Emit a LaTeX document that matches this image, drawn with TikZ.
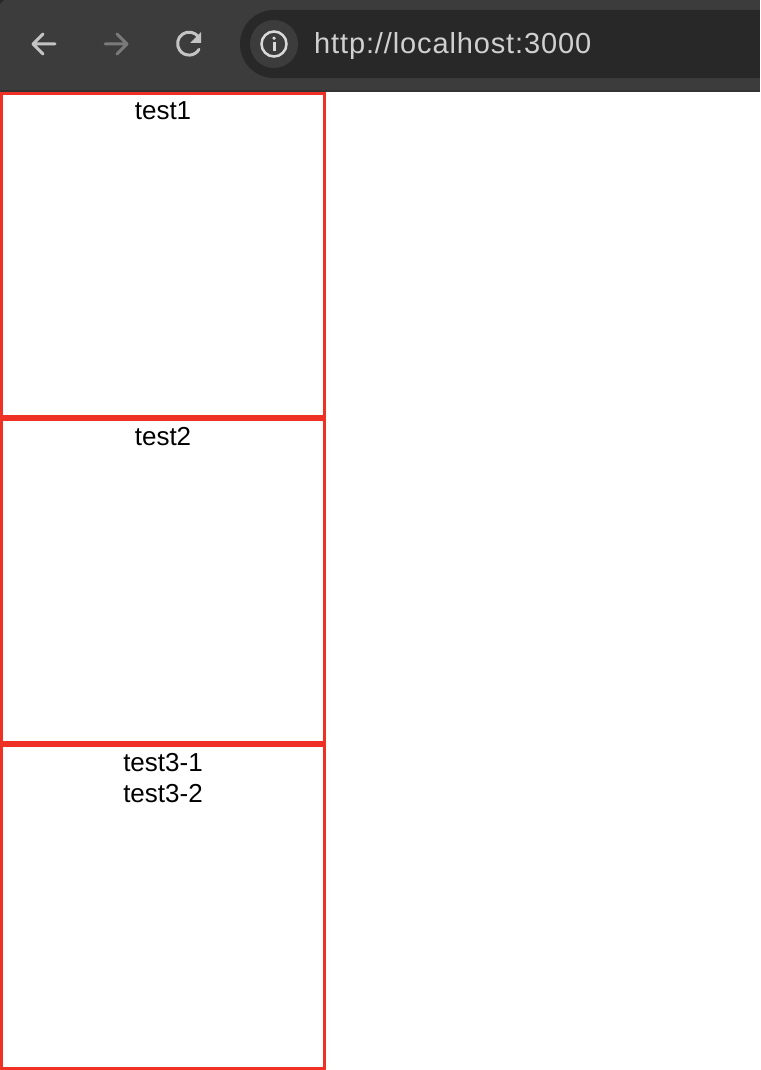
\documentclass[tikz,border=0pt]{standalone}
\usepackage{fontspec}
\setmainfont{Liberation Sans}
\usetikzlibrary{positioning}
\definecolor{barcol}{HTML}{3C3C3C}
\definecolor{urlcol}{HTML}{282828}
\definecolor{boxcol}{HTML}{EE3124}
\definecolor{iconcol}{HTML}{C4C4C4}
\definecolor{offcol}{HTML}{7A7A7A}
\definecolor{urltext}{HTML}{D0D0D0}
\begin{document}
\begin{tikzpicture}[x=1pt,y=-1pt,
 testbox/.style={draw=boxcol,line width=3pt,minimum size=323pt,inner sep=0pt,outer sep=0pt},
 testlabel/.style={font=\fontsize{26}{30}\selectfont,text=black,inner sep=0pt,align=center,text height=19pt,text depth=5pt},
 navicon/.style={line width=3pt,line cap=round,line join=round}]
 \useasboundingbox (0,0) rectangle (760,1070);
 \fill[white] (0,0) rectangle (760,1070);
 % browser bar
 \fill[barcol] (0,0) rectangle (760,92);
 \fill[urlcol] (0,0) -- (4,0) -- (0,4) -- cycle;
 \fill[barcol!85!black] (0,90) rectangle (760,92);
 \fill[urlcol] (274,44) circle (34);
 \fill[urlcol] (274,10) rectangle (760,78);
 \node[circle,fill=barcol,minimum size=48pt,inner sep=0pt] (infobg) at (274,44) {};
 \node[circle,draw=urltext!80!white,line width=2.5pt,minimum size=25pt,inner sep=0pt] (info) at (274,44) {};
 \fill[urltext!80!white] (272.5,42) rectangle (275.5,51);
 \fill[urltext!80!white] (274,38.2) circle (1.8);
 \node[anchor=west,text=urltext,inner sep=0pt,font=\addfontfeature{LetterSpace=3}\fontsize{29}{34}\selectfont,text height=21pt,text depth=6pt] (url) at (314,46.5) {http://localhost:3000};
 % nav icons
 \draw[navicon,iconcol] (55,44) -- (33,44) (43,34) -- (33,44) -- (43,54);
 \draw[navicon,offcol] (105,44) -- (127,44) (117,34) -- (127,44) -- (117,54);
 \draw[navicon,iconcol] (198.5,37) arc (-35:-330:11.5);
 \fill[iconcol] (201,32) -- (201,43) -- (190,43) -- cycle;
 % boxes
 \foreach \X/\Y in {1/255,2/581,3/907}
  {\node[testbox] (box\X) at (163,\Y) {};}
 \node[testlabel,below=7pt of box1.north] (test1) {test1};
 \node[testlabel,below=7pt of box2.north] (test2) {test2};
 \node[testlabel,below=7pt of box3.north] (test3a) {test3-1};
 \node[testlabel,below=6pt of test3a] (test3b) {test3-2};
\end{tikzpicture}
\end{document}
